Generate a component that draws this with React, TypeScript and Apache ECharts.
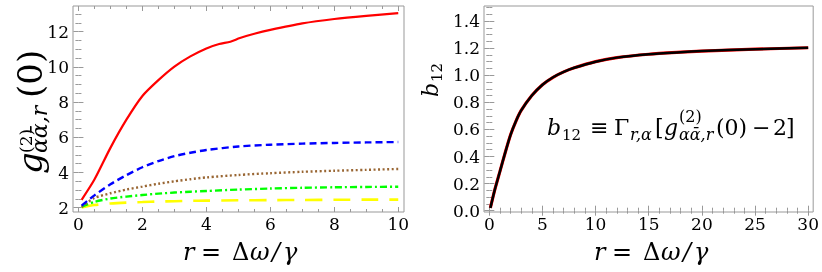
import React, { useEffect, useRef } from "react";
import * as echarts from "echarts";

// ---------- data ----------
const RED_R = [0.1, 0.5, 1, 1.5, 2, 2.5, 3, 3.5, 4, 4.4, 4.75, 5.05, 5.5, 6, 7, 8, 9, 10];
const RED_G = [2.45, 3.6, 5.4, 7.0, 8.35, 9.25, 10.02, 10.6, 11.05, 11.3, 11.43, 11.64, 11.88, 12.1, 12.47, 12.72, 12.9, 13.05];

const LEFT_R = [0.1, 0.5, 1, 1.5, 2, 2.5, 3, 3.5, 4, 5, 6, 7, 8, 9, 10];
const BLUE_G = [2.12, 2.7, 3.33, 3.85, 4.3, 4.65, 4.93, 5.12, 5.28, 5.48, 5.58, 5.64, 5.68, 5.71, 5.73];
const BROWN_G = [2.05, 2.55, 2.82, 3.03, 3.2, 3.36, 3.5, 3.62, 3.72, 3.86, 3.96, 4.04, 4.1, 4.15, 4.2];
const GREEN_G = [2.05, 2.33, 2.52, 2.63, 2.72, 2.8, 2.86, 2.91, 2.95, 3.03, 3.09, 3.13, 3.16, 3.18, 3.19];
const YELLOW_G = [2.02, 2.15, 2.24, 2.29, 2.32, 2.35, 2.37, 2.39, 2.4, 2.42, 2.43, 2.44, 2.45, 2.46, 2.46];

const B_R = [0.1, 0.5, 1, 1.5, 2, 2.5, 3, 4, 5, 6, 7, 8, 10, 12, 15, 18, 20, 25, 30];
const B_VAL = [0.02, 0.15, 0.29, 0.43, 0.56, 0.66, 0.74, 0.85, 0.93, 0.985, 1.025, 1.055, 1.1, 1.13, 1.155, 1.17, 1.178, 1.192, 1.203];

// ---------- ticks ----------
const L_X_MAJOR = [0, 2, 4, 6, 8, 10];
const L_X_MINOR = [0.5, 1, 1.5, 2.5, 3, 3.5, 4.5, 5, 5.5, 6.5, 7, 7.5, 8.5, 9, 9.5];
const L_Y_MAJOR = [2, 4, 6, 8, 10, 12];
const L_Y_MINOR = [2.5, 3, 3.5, 4.5, 5, 5.5, 6.5, 7, 7.5, 8.5, 9, 9.5, 10.5, 11, 11.5, 12.5, 13];
const R_X_MAJOR = [0, 5, 10, 15, 20, 25, 30];
const R_X_MINOR = [1, 2, 3, 4, 6, 7, 8, 9, 11, 12, 13, 14, 16, 17, 18, 19, 21, 22, 23, 24, 26, 27, 28, 29];
const R_Y_MAJOR = [0, 0.2, 0.4, 0.6, 0.8, 1.0, 1.2, 1.4];
const R_Y_MINOR = [0.05, 0.1, 0.15, 0.25, 0.3, 0.35, 0.45, 0.5, 0.55, 0.65, 0.7, 0.75, 0.85, 0.9, 0.95, 1.05, 1.1, 1.15, 1.25, 1.3, 1.35, 1.45, 1.5];

const FONT = "DejaVu Serif";
const GRAY = "#999999";

function zip(xs: number[], ys: number[]) {
  return xs.map((x, i) => [x, ys[i]]);
}

function axis(
  grid: number,
  position: string,
  min: number,
  max: number,
  ticks: number[],
  len: number,
  labels: boolean,
  fmt?: (v: number) => string
) {
  return {
    type: "value",
    gridIndex: grid,
    position,
    min,
    max,
    axisLine: { show: false },
    splitLine: { show: false },
    axisTick: { show: true, inside: true, length: len, lineStyle: { color: GRAY, width: 1 }, customValues: ticks },
    axisLabel: labels
      ? {
          show: true,
          customValues: ticks,
          fontFamily: FONT,
          fontSize: 17,
          color: "#000",
          margin: position === "left" ? 4 : 3,
          formatter: fmt ? (v: number) => fmt(v) : (v: number) => String(v),
        }
      : { show: false },
  };
}

function txt(s: string, x: number, base: number, size: number, italic = false) {
  return {
    type: "text",
    x,
    y: base - 0.34 * size,
    silent: true,
    style: {
      text: s,
      font: (italic ? "italic " : "") + size + "px " + FONT,
      fill: "#000",
      align: "left",
      verticalAlign: "middle",
    },
  };
}

function xLabel(x0: number) {
  const b = 260;
  return [
    txt("r", x0, b, 24, true),
    txt("=", x0 + 18, b, 24),
    txt("Δ", x0 + 49, b, 24),
    txt("ω", x0 + 67, b, 24, true),
    txt("/", x0 + 89, b, 24, true),
    txt("γ", x0 + 100, b, 24, true),
  ];
}

const lineBase = { type: "line", showSymbol: false, smooth: 0.25 };

export default function App() {
  const ref = useRef<HTMLDivElement>(null);
  useEffect(() => {
    if (!ref.current) return;
    const chart = echarts.init(ref.current, undefined, { renderer: "svg" });
    const L = { xmin: -0.17, xmax: 10.18, ymin: 1.756, ymax: 13.46 };
    const R = { xmin: -0.5, xmax: 30.47, ymin: -0.0096, ymax: 1.511 };
    const f1 = (v: number) => v.toFixed(1);
    const option: any = {
      animation: false,
      grid: [
        { left: 73, top: 6, width: 331, height: 206, show: true, borderColor: GRAY, borderWidth: 1, backgroundColor: "transparent" },
        { left: 484, top: 6, width: 331, height: 206, show: true, borderColor: GRAY, borderWidth: 1, backgroundColor: "transparent" },
      ],
      xAxis: [
        axis(0, "bottom", L.xmin, L.xmax, L_X_MAJOR, 5, true),
        axis(0, "bottom", L.xmin, L.xmax, L_X_MINOR, 3, false),
        axis(0, "top", L.xmin, L.xmax, L_X_MAJOR, 5, false),
        axis(0, "top", L.xmin, L.xmax, L_X_MINOR, 3, false),
        axis(1, "bottom", R.xmin, R.xmax, R_X_MAJOR, 5, true),
        axis(1, "bottom", R.xmin, R.xmax, R_X_MINOR, 3, false),
        axis(1, "top", R.xmin, R.xmax, R_X_MAJOR, 5, false),
        axis(1, "top", R.xmin, R.xmax, R_X_MINOR, 3, false),
      ],
      yAxis: [
        axis(0, "left", L.ymin, L.ymax, L_Y_MAJOR, 5, true),
        axis(0, "left", L.ymin, L.ymax, L_Y_MINOR, 3, false),
        axis(0, "right", L.ymin, L.ymax, L_Y_MAJOR, 5, false),
        axis(0, "right", L.ymin, L.ymax, L_Y_MINOR, 3, false),
        axis(1, "left", R.ymin, R.ymax, R_Y_MAJOR, 5, true, f1),
        axis(1, "left", R.ymin, R.ymax, R_Y_MINOR, 3, false),
        axis(1, "right", R.ymin, R.ymax, R_Y_MAJOR, 5, false),
        axis(1, "right", R.ymin, R.ymax, R_Y_MINOR, 3, false),
      ],
      series: [
        { ...lineBase, xAxisIndex: 0, yAxisIndex: 0, data: zip(LEFT_R, YELLOW_G), lineStyle: { color: "#ffff00", width: 2.6, type: [17, 11] } },
        { ...lineBase, xAxisIndex: 0, yAxisIndex: 0, data: zip(LEFT_R, GREEN_G), lineStyle: { color: "#00ff00", width: 2.4, type: [7, 3, 2, 3] } },
        { ...lineBase, xAxisIndex: 0, yAxisIndex: 0, data: zip(LEFT_R, BROWN_G), lineStyle: { color: "#996633", width: 2.4, type: [2, 2.5] } },
        { ...lineBase, xAxisIndex: 0, yAxisIndex: 0, data: zip(LEFT_R, BLUE_G), lineStyle: { color: "#0000ff", width: 2.4, type: [7, 4] } },
        { ...lineBase, xAxisIndex: 0, yAxisIndex: 0, data: zip(RED_R, RED_G), lineStyle: { color: "#ff0000", width: 2.2 } },
        { ...lineBase, xAxisIndex: 4, yAxisIndex: 4, data: zip(B_R, B_VAL), lineStyle: { color: "#ff0000", width: 3.2 } },
        { ...lineBase, xAxisIndex: 4, yAxisIndex: 4, data: zip(B_R, B_VAL), lineStyle: { color: "#000000", width: 2.5 } },
      ],
      graphic: [
        ...xLabel(183),
        ...xLabel(594),
        {
          type: "group",
          x: 42,
          y: 174,
          rotation: Math.PI / 2,
          children: [
            txt("g", 0, 0, 34, true),
            txt("(2)", 21, -10, 17),
            txt("αᾱ,r", 21, 5, 22, true),
            txt("(0)", 76, 0, 34),
          ],
        },
        {
          type: "group",
          x: 438,
          y: 97,
          rotation: Math.PI / 2,
          children: [txt("b", 0, 0, 22, true), txt("12", 15, 4, 15)],
        },
        txt("b", 547, 135, 22, true),
        txt("12", 562, 140, 15),
        txt("≡", 590, 135, 22),
        txt("Γ", 614, 135, 22),
        txt("r,α", 630, 140, 16, true),
        txt("[", 655, 135, 22),
        txt("g", 664, 135, 22, true),
        txt("(2)", 679, 122, 16),
        txt("αᾱ,r", 679, 140, 16, true),
        txt("(0)", 716, 135, 22),
        txt("−", 752, 135, 22),
        txt("2", 773, 135, 22),
        txt("]", 786, 135, 22),
      ],
    };
    chart.setOption(option);
    return () => chart.dispose();
  }, []);
  return <div ref={ref} style={{ position: "fixed", left: 0, top: 0, width: 822, height: 272 }} />;
}
